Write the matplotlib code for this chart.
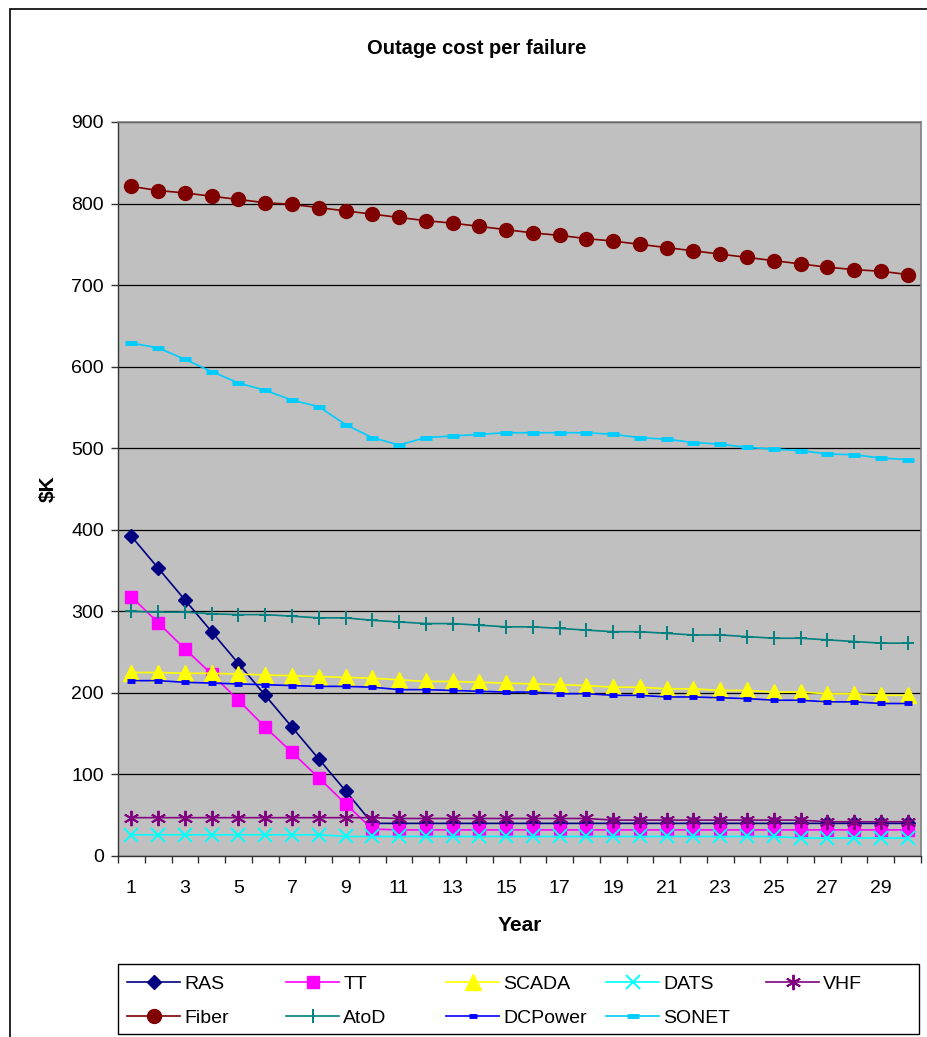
import matplotlib
matplotlib.use("Agg")
import matplotlib.pyplot as plt
from matplotlib.patches import Rectangle

plt.rcParams['font.family'] = ['Liberation Sans', 'DejaVu Sans']

years = list(range(1, 31))

RAS = [392, 353, 314, 275, 236, 197, 158, 119, 80, 40,
       40, 40, 40, 40, 40, 40, 40, 40, 40, 40,
       40, 40, 40, 40, 40, 40, 40, 40, 40, 40]
TT = [318, 286, 254, 223, 191, 158, 127, 96, 64, 33,
      32, 32, 32, 32, 32, 32, 32, 32, 32, 32,
      32, 32, 32, 32, 32, 32, 32, 32, 32, 32]
SCADA = [225, 225, 224, 224, 223, 222, 221, 220, 219, 218,
         216, 214, 214, 213, 212, 211, 210, 209, 207, 207,
         205, 205, 203, 203, 201, 201, 199, 199, 197, 197]
DATS = [26, 26, 26, 26, 26, 26, 26, 26, 24, 24,
        24, 24, 24, 24, 24, 24, 24, 24, 24, 24,
        24, 24, 24, 24, 24, 22, 22, 22, 22, 22]
VHF = [47, 47, 47, 47, 47, 47, 47, 47, 47, 47,
       46, 46, 46, 46, 46, 46, 46, 46, 44, 44,
       44, 44, 44, 44, 44, 44, 42, 42, 42, 42]
Fiber = [821, 816, 813, 809, 805, 801, 799, 795, 791, 787,
         783, 779, 776, 772, 768, 764, 761, 757, 754, 750,
         746, 742, 738, 734, 730, 726, 722, 719, 717, 713]
AtoD = [300, 299, 299, 297, 296, 296, 294, 292, 292, 289,
        287, 285, 285, 283, 281, 281, 279, 277, 275, 275,
        273, 271, 271, 269, 267, 267, 265, 263, 261, 261]
DCPower = [215, 215, 213, 212, 211, 210, 209, 208, 208, 207,
           204, 204, 203, 202, 201, 201, 199, 199, 197, 197,
           195, 195, 194, 193, 191, 191, 189, 189, 187, 187]
SONET = [629, 623, 609, 594, 580, 571, 559, 551, 529, 513,
         504, 513, 515, 517, 519, 519, 519, 519, 517, 513,
         511, 507, 505, 501, 499, 497, 493, 492, 488, 486]

series = [
    ("RAS", RAS, dict(color="#000080", marker="D", ms=7.5, mfc="#000080", mec="#000080")),
    ("TT", TT, dict(color="#FF00FF", marker="s", ms=9, mfc="#FF00FF", mec="#FF00FF")),
    ("SCADA", SCADA, dict(color="#FFFF00", marker="^", ms=11, mfc="#FFFF00", mec="#FFFF00")),
    ("DATS", DATS, dict(color="#00FFFF", marker="x", ms=10, mew=1.4)),
    ("VHF", VHF, dict(color="#800080", marker=(6, 2, 0), ms=11, mew=1.4)),
    ("Fiber", Fiber, dict(color="#800000", marker="o", ms=10, mfc="#800000", mec="#800000")),
    ("AtoD", AtoD, dict(color="#008080", marker="|", ms=10, mew=1.4)),
    ("DCPower", DCPower, dict(color="#0000FF", marker="_", ms=6, mew=3.5)),
    ("SONET", SONET, dict(color="#00CCFF", marker="_", ms=9, mew=3.5)),
]

W, H = 928, 1037
fig = plt.figure(figsize=(W / 100, H / 100), dpi=100)
ax = fig.add_axes([118 / W, 1 - 856 / H, (921 - 118) / W, (856 - 122) / H])
ax.set_facecolor("#C0C0C0")

handles = {}
for name, vals, st in series:
    ln, = ax.plot(years, vals, lw=1.2, label=name, **st)
    if name == "AtoD":
        ax.plot(years, vals, lw=0, marker="_", ms=8, mew=1.4, color=st["color"])
    handles[name] = ln

ax.set_xlim(0.5, 30.5)
ax.set_ylim(0, 900)
ax.set_yticks(range(0, 901, 100))
ax.yaxis.grid(True, color="black", lw=0.9)
ax.set_axisbelow(True)

ax.set_xticks([i + 0.5 for i in range(0, 31)])
ax.set_xticklabels([])
ax.set_xticks(years[::2], minor=True)
ax.set_xticklabels([str(y) for y in years[::2]], minor=True)
ax.tick_params(axis="x", which="major", direction="out", length=5, width=1, color="#333333")
ax.tick_params(axis="x", which="minor", length=0, pad=17, labelsize=14)
ax.tick_params(axis="y", direction="out", length=5, width=1, color="#333333", labelsize=14, pad=5)

for side in ["top", "right"]:
    ax.spines[side].set_color("#808080")
    ax.spines[side].set_linewidth(1.2)
for side in ["left", "bottom"]:
    ax.spines[side].set_color("#333333")
    ax.spines[side].set_linewidth(1.0)

ax.set_xlabel("Year", fontsize=15, fontweight="bold", labelpad=14)
ax.set_ylabel(r"\$K", fontsize=15, fontweight="bold", labelpad=10)

fig.text(477 / W, 1 - 48 / H, "Outage cost per failure", ha="center", va="center",
         fontsize=14.5, fontweight="bold")

# figure border
fig.patches.append(Rectangle((10 / W, -0.01), 1.0, 1 - 9 / H + 0.01, transform=fig.transFigure,
                             fill=False, edgecolor="black", lw=1.2))

# legend frame
fig.patches.append(Rectangle((118 / W, 1 - 1034 / H), (919 - 118) / W, (1034 - 964) / H,
                             transform=fig.transFigure, fill=False, edgecolor="black", lw=1.0))

columns = [["RAS", "Fiber"], ["TT", "AtoD"], ["SCADA", "DCPower"], ["DATS", "SONET"], ["VHF"]]
col_x = [127, 286, 446, 606, 766]
for names, cx in zip(columns, col_x):
    leg = fig.legend([handles[n] for n in names], names, ncol=1, loc="upper left",
                     bbox_to_anchor=(cx / W, 1 - 975 / H), fontsize=14, frameon=False,
                     handlelength=2.75, handletextpad=0.2, borderpad=0, borderaxespad=0,
                     labelspacing=0.85)

fig.savefig("out.png", dpi=100)
